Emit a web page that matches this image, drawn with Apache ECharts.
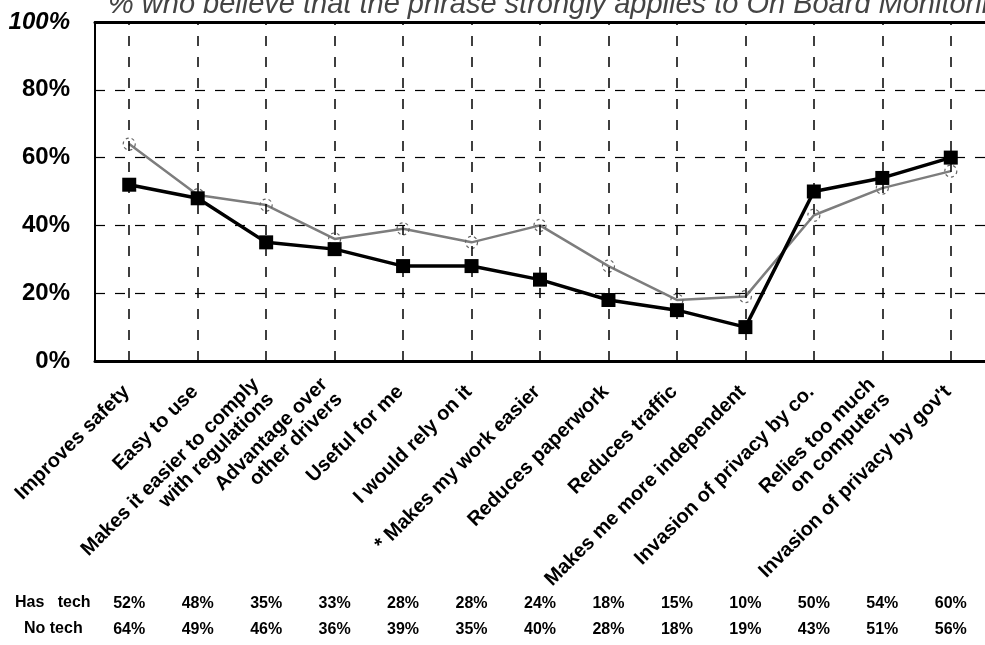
<!DOCTYPE html>
<html>
<head>
<meta charset="utf-8">
<script src="https://cdn.jsdelivr.net/npm/echarts@6/dist/echarts.min.js"></script>
<style>
html,body{margin:0;padding:0;background:#fff;}
#chart{width:985px;height:645px;}
</style>
</head>
<body>
<div id="chart"></div>
<script>
const categories = [
  "Improves safety",
  "Easy to use",
  "Makes it easier to comply\nwith regulations",
  "Advantage over\nother drivers",
  "Useful for me",
  "I would rely on it",
  "* Makes my work easier",
  "Reduces paperwork",
  "Reduces traffic",
  "Makes me more independent",
  "Invasion of privacy by co.",
  "Relies too much\non computers",
  "Invasion of privacy by gov't"
];
const hasTech = [52, 48, 35, 33, 28, 28, 24, 18, 15, 10, 50, 54, 60];
const noTech  = [64, 49, 46, 36, 39, 35, 40, 28, 18, 19, 43, 51, 56];
const yTicks = [0, 20, 40, 60, 80, 100];
const titleText = "% who believe that the phrase strongly applies to On Board Monitoring";
const rowNames = ["Has   tech", "No tech"];

const FONT = "'Liberation Sans', Arial, sans-serif";
const NARROW = "'Liberation Sans Narrow', 'Liberation Sans', Arial, sans-serif";
const chart = echarts.init(document.getElementById('chart'), null, {renderer: 'canvas'});

const tableAxis = (vals, offset) => ({
  type: 'category',
  data: categories,
  position: 'bottom',
  offset: offset,
  axisLine: {show: false},
  axisTick: {show: false},
  splitLine: {show: false},
  axisLabel: {
    interval: 0,
    margin: 0,
    fontFamily: NARROW,
    fontWeight: 'bold',
    fontSize: 16,
    color: '#000',
    formatter: (v, i) => vals[i] + '%'
  }
});

const option = {
  animation: false,
  backgroundColor: '#fff',
  grid: {left: 95, right: 0, top: 22, bottom: 284, containLabel: false},
  graphic: [
    {type: 'text', left: 108, top: -10, silent: true,
     style: {text: titleText, font: "italic 29px " + FONT, fill: '#444'}},
    {type: 'text', left: 15, top: 595, silent: true,
     style: {text: rowNames[0], font: "bold 16px " + NARROW, fill: '#000'}},
    {type: 'text', left: 24, top: 621, silent: true,
     style: {text: rowNames[1], font: "bold 16px " + NARROW, fill: '#000'}}
  ],
  xAxis: [
    {
      type: 'category',
      data: categories,
      boundaryGap: true,
      axisLine: {show: true, lineStyle: {color: '#000', width: 3}},
      axisTick: {show: false},
      splitLine: {show: false},
      axisLabel: {
        interval: 0,
        rotate: 45,
        margin: 25,
        fontFamily: FONT,
        fontWeight: 'bold',
        fontSize: 20,
        lineHeight: 21,
        color: '#000',
        padding: [0, 4, 0, 0]
      }
    },
    {
      type: 'category',
      data: categories,
      position: 'top',
      axisLine: {show: true, lineStyle: {color: '#000', width: 3}},
      axisTick: {show: false},
      axisLabel: {show: false},
      splitLine: {show: false}
    },
    tableAxis(hasTech, 235),
    tableAxis(noTech, 261)
  ],
  yAxis: {
    type: 'value',
    min: 0,
    max: 100,
    interval: 20,
    axisLine: {show: true, lineStyle: {color: '#000', width: 2}},
    axisTick: {show: false},
    splitLine: {show: true, lineStyle: {color: '#000', width: 1.2, type: [10, 10]}},
    axisLabel: {
      margin: 25,
      fontFamily: FONT,
      fontWeight: 'bold',
      fontSize: 24,
      color: '#000',
      formatter: v => (yTicks.indexOf(v) >= 0 ? (v === 100 ? '{i|100%}' : v + '%') : ''),
      rich: {i: {fontFamily: FONT, fontWeight: 'bold', fontStyle: 'italic', fontSize: 24, color: '#000'}}
    }
  },
  series: [
    {
      name: 'No tech',
      type: 'line',
      data: noTech,
      symbol: 'circle',
      symbolSize: 12,
      lineStyle: {color: '#7d7d7d', width: 2.5},
      itemStyle: {color: 'rgba(255,255,255,0)', borderColor: '#666', borderWidth: 1.2, borderType: [3, 3]},
      markLine: {
        silent: true,
        symbol: ['none', 'none'],
        label: {show: false},
        lineStyle: {color: '#000', width: 1.5, type: [10, 11]},
        data: categories.map(c => ({xAxis: c}))
      }
    },
    {
      name: 'Has tech',
      type: 'line',
      data: hasTech,
      symbol: 'rect',
      symbolSize: 14,
      lineStyle: {color: '#000', width: 3.5},
      itemStyle: {color: '#000'}
    }
  ]
};
chart.setOption(option);
</script>
</body>
</html>
